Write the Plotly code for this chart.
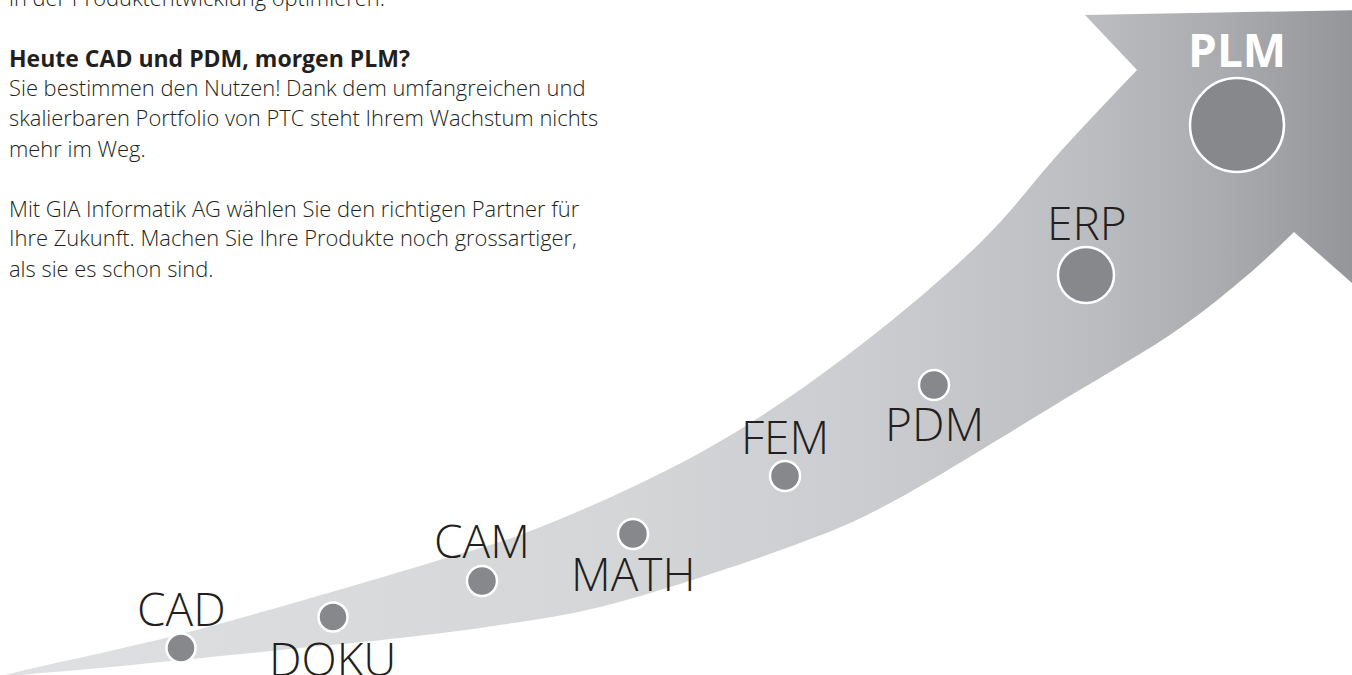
import plotly.graph_objects as go

# ---- data -------------------------------------------------------------
items = ["CAD", "DOKU", "CAM", "MATH", "FEM", "PDM", "ERP", "PLM"]
node_x = [181, 333, 482, 633, 785, 934, 1086, 1237]
node_y = [648, 617, 581, 534, 476, 385, 275, 125]
node_d = [29, 29, 30, 30, 30, 30, 56, 94]
label_x = [181, 332, 482, 633, 785, 934, 1087, 1237]
label_y = [608, 658, 540, 573, 436, 423, 222, 49]

text_lines = [
    "in der Produktentwicklung optimieren.",
    "",
    "<b>Heute CAD und PDM, morgen PLM?</b>",
    "Sie bestimmen den Nutzen! Dank dem umfangreichen und",
    "skalierbaren Portfolio von PTC steht Ihrem Wachstum nichts",
    "mehr im Weg.",
    "",
    "Mit GIA Informatik AG wählen Sie den richtigen Partner für",
    "Ihre Zukunft. Machen Sie Ihre Produkte noch grossartiger,",
    "als sie es schon sind.",
]

# arrow outline (shaft edges and head)
upper_x = [-20, 13, 181, 433, 533, 705, 845, 983, 1060, 1137]
upper_y = [682, 673, 634, 562, 530, 450, 357, 240, 152, 70]
lower_x = [1294, 1250, 1180, 1063, 877, 800, 600, 500, 400, 300, 100, 13, -20]
lower_y = [232, 273, 328, 400, 510, 543, 607, 625, 638, 648, 668, 676, 682]
head_x = [1085, 1360, 1360, 1294, 1200, 1137]
head_y = [15, 10, 290, 232, 200, 70]

W, H = 1352, 675
grad = dict(type="horizontal", start=0, stop=W,
            colorscale=[[0, "#dfe0e2"], [0.45, "#d5d6d8"], [0.65, "#cbcccf"],
                        [0.8, "#bdbec1"], [0.9, "#abacaf"], [1.0, "#95969a"]])

fig = go.Figure()
# shaft
fig.add_trace(go.Scatter(
    x=lower_x + upper_x, y=lower_y + upper_y,
    mode="lines", line=dict(width=0, color="rgba(0,0,0,0)", shape="spline", smoothing=1.0),
    fill="toself", fillgradient=grad, hoverinfo="skip", showlegend=False))
# head
fig.add_trace(go.Scatter(
    x=head_x, y=head_y, mode="lines", line=dict(width=0, color="rgba(0,0,0,0)"),
    fill="toself", fillgradient=grad, hoverinfo="skip", showlegend=False))
# nodes
fig.add_trace(go.Scatter(
    x=node_x, y=node_y, mode="markers",
    marker=dict(size=node_d, color="#87888c", opacity=1, line=dict(color="white", width=2.5)),
    hoverinfo="text", text=items, showlegend=False))

annotations = []
for i, name in enumerate(items):
    is_plm = name == "PLM"
    annotations.append(dict(
        x=label_x[i], y=label_y[i], xref="x", yref="y", text=f"<b>{name}</b>" if is_plm else name,
        showarrow=False, xanchor="center", yanchor="middle",
        font=dict(family="Open Sans", size=46, color="white" if is_plm else "#231f20",
                  weight=700 if is_plm else 300)))

for k, line in enumerate(text_lines):
    if not line:
        continue
    bold = line.startswith("<b>")
    ypx = 30 * k - 2
    annotations.append(dict(
        x=7 / W, y=1 - ypx / H, xref="paper", yref="paper", text=line, showarrow=False,
        xanchor="left", yanchor="middle",
        font=dict(family="Open Sans", size=23 if bold else 21.9, color="#231f20",
                  weight=700 if bold else 300)))

fig.update_layout(
    width=W, height=H, margin=dict(l=0, r=0, t=0, b=0),
    paper_bgcolor="white", plot_bgcolor="white",
    xaxis=dict(range=[0, W], visible=False, fixedrange=True),
    yaxis=dict(range=[H, 0], visible=False, fixedrange=True),
    annotations=annotations,
)
fig.write_html(
    "out.html",
    config={"displayModeBar": False},
    post_script="document.body.style.margin='0';document.body.style.overflow='hidden';",
)
